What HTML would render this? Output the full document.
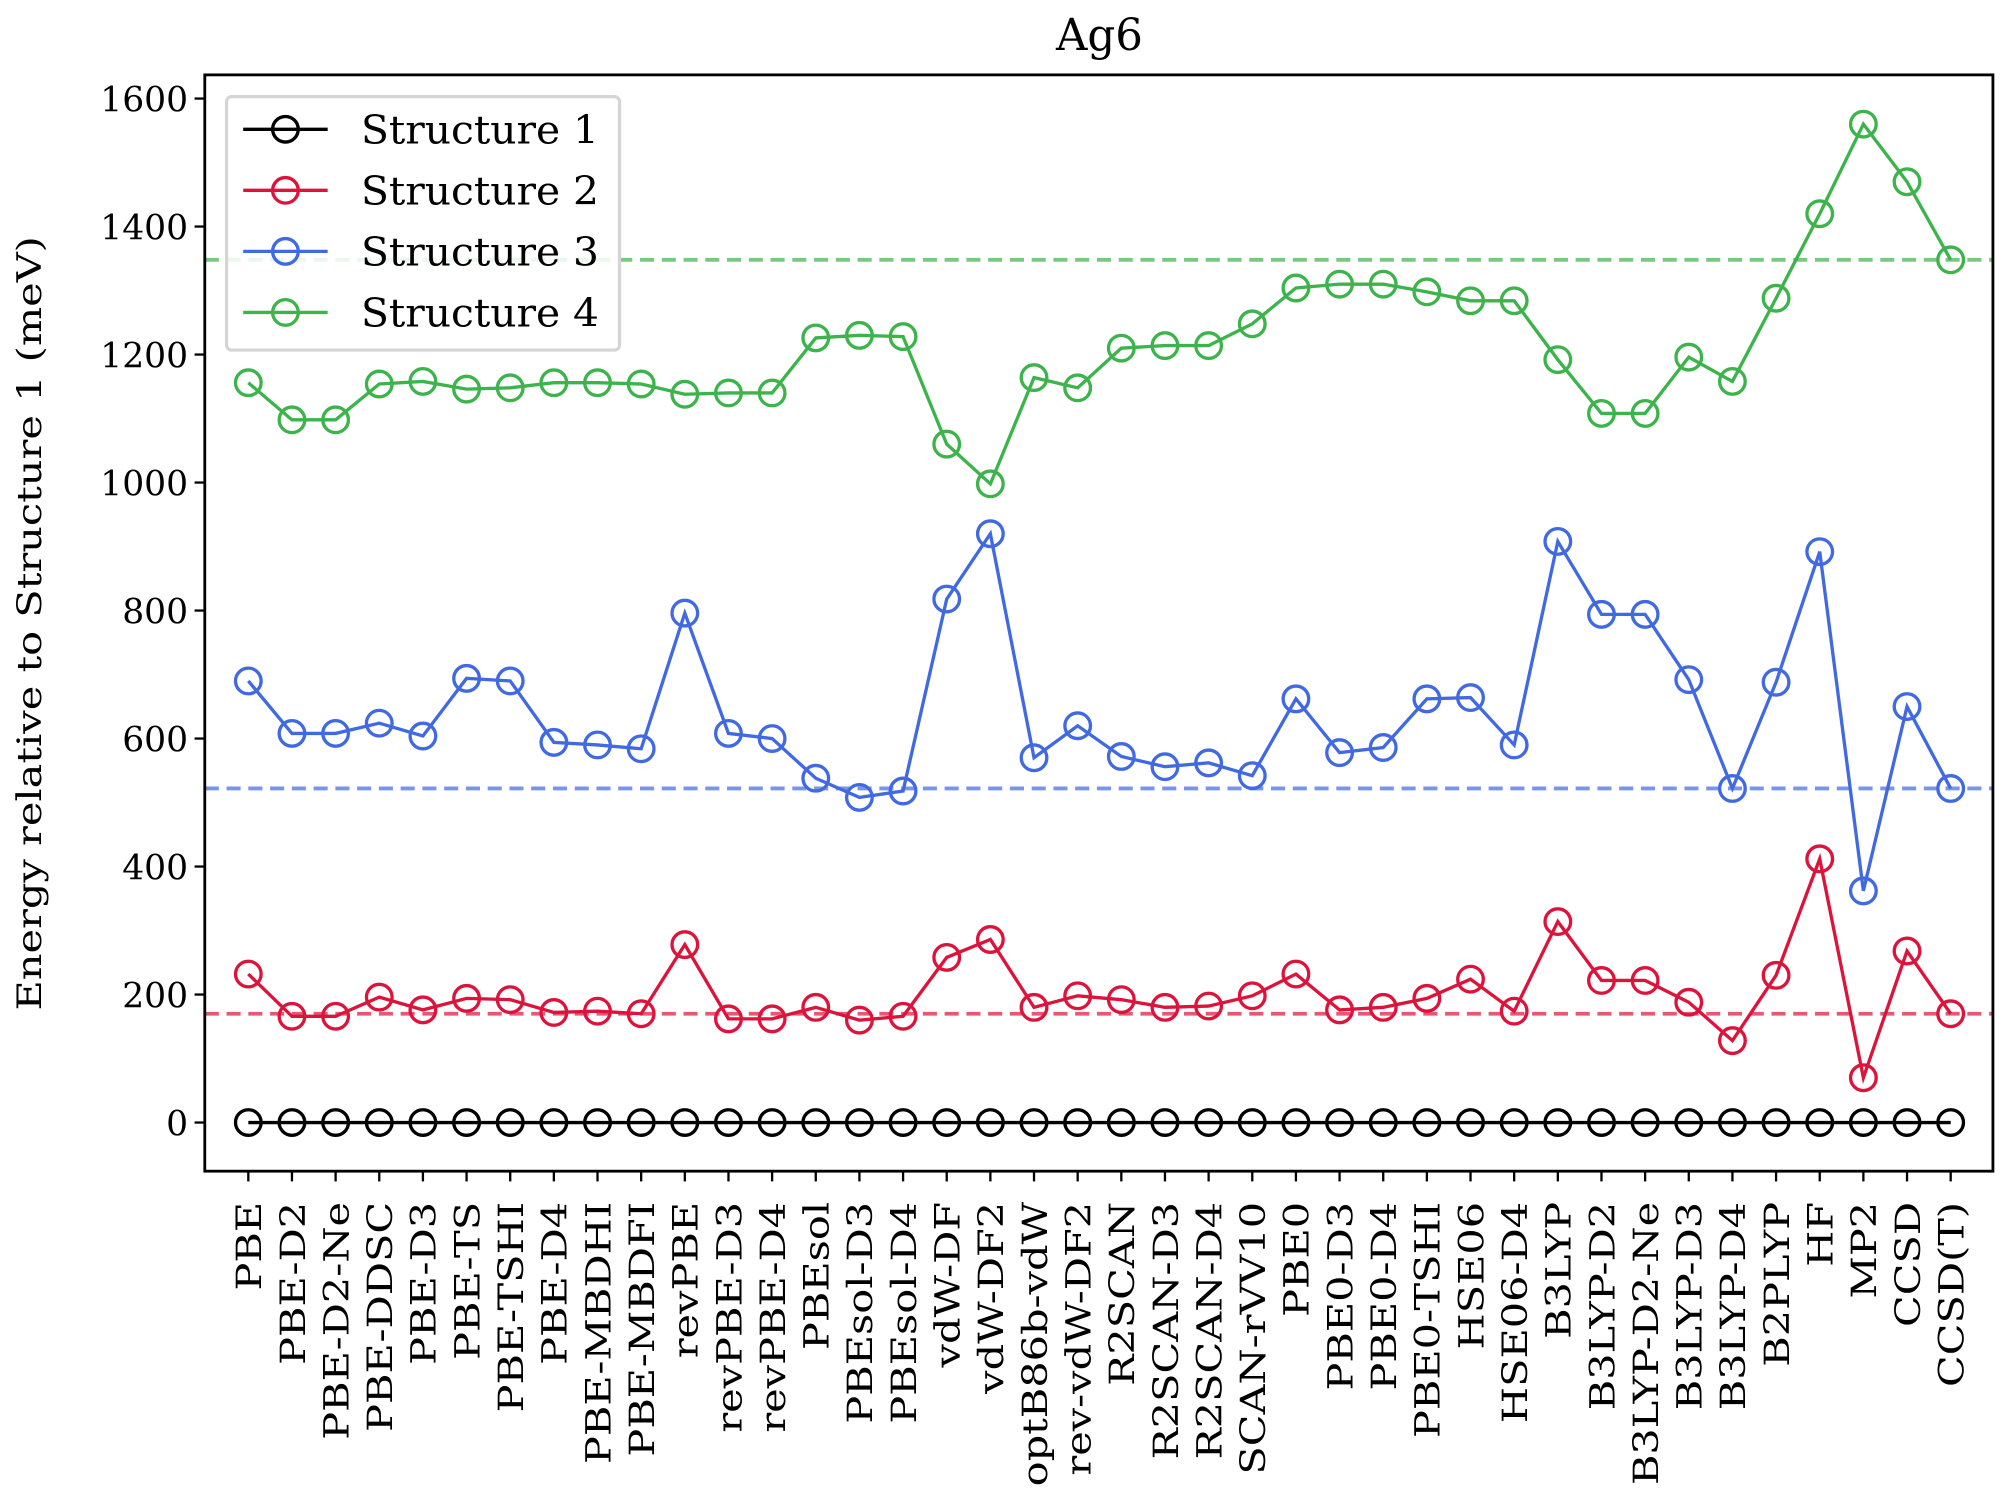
<!DOCTYPE html>
<html><head><meta charset="utf-8"><style>
html,body{margin:0;padding:0;background:#fff}
svg{display:block}
text{font-family:"DejaVu Serif","Liberation Serif",serif;fill:#000}
</style></head><body>
<svg id="chart" width="2007" height="1500" viewBox="0 0 1568 1171.9" xmlns="http://www.w3.org/2000/svg">
<rect width="1568" height="1172" fill="#fff"/>
<text x="859" y="39" font-size="34" text-anchor="middle" font-family="DejaVu Serif, serif">Ag6</text>
<text transform="translate(32,487) rotate(-90)" font-size="26" text-anchor="middle" font-family="DejaVu Serif, serif" textLength="605" lengthAdjust="spacingAndGlyphs">Energy relative to Structure 1 (meV)</text>
<g id="plot"></g>
<rect x="160" y="58.5" width="1397" height="856.5" fill="none" stroke="#000" stroke-width="2.2"/>
<g id="legend"></g>
</svg>
<script>
const categories=["PBE","PBE-D2","PBE-D2-Ne","PBE-DDSC","PBE-D3","PBE-TS","PBE-TSHI","PBE-D4","PBE-MBDHI","PBE-MBDFI","revPBE","revPBE-D3","revPBE-D4","PBEsol","PBEsol-D3","PBEsol-D4","vdW-DF","vdW-DF2","optB86b-vdW","rev-vdW-DF2","R2SCAN","R2SCAN-D3","R2SCAN-D4","SCAN-rVV10","PBE0","PBE0-D3","PBE0-D4","PBE0-TSHI","HSE06","HSE06-D4","B3LYP","B3LYP-D2","B3LYP-D2-Ne","B3LYP-D3","B3LYP-D4","B2PLYP","HF","MP2","CCSD","CCSD(T)"];
const s1=[0,0,0,0,0,0,0,0,0,0,0,0,0,0,0,0,0,0,0,0,0,0,0,0,0,0,0,0,0,0,0,0,0,0,0,0,0,0,0,0];
const s2=[232,166,166,196,176,194,192,172,174,170,278,162,162,180,160,166,258,286,180,198,192,180,182,198,232,176,180,194,224,174,314,222,222,188,128,230,412,70,268,170];
const s3=[690,608,608,624,604,694,690,594,590,584,796,608,600,538,508,518,818,920,570,620,572,556,562,542,662,578,586,662,664,590,908,794,794,692,522,688,892,362,650,522];
const s4=[1156,1098,1098,1154,1158,1146,1148,1156,1156,1154,1138,1140,1140,1226,1230,1228,1060,998,1164,1148,1210,1214,1214,1248,1304,1310,1310,1298,1284,1284,1192,1108,1108,1196,1158,1288,1420,1560,1470,1348];
const refLines=[1348,522,170];
const yTicks=[0,200,400,600,800,1000,1200,1400,1600];
const seriesNames=["Structure 1","Structure 2","Structure 3","Structure 4"];

const NS="http://www.w3.org/2000/svg";
const colors=["#000000","#dc143c","#4169e1","#3cb44b"];
const X0=160,X1=1557,Y0=915,Y1=58.5;
const xs=i=>194+i*(1524-194)/(categories.length-1);
const ys=v=>877-v*0.5;
const plot=document.getElementById('plot');
function mk(tag,attrs,parent){const e=document.createElementNS(NS,tag);for(const k in attrs)e.setAttribute(k,attrs[k]);(parent||plot).appendChild(e);return e;}

yTicks.forEach(t=>{
  const y=ys(t);
  const tk=mk('line',{x1:X0-8,x2:X0,y1:y,y2:y,stroke:'#000','stroke-width':1.8});
  
  
  const tx=mk('text',{x:X0-13,y:y+10,'font-size':27,'text-anchor':'end'});
  tx.textContent=t;
  
  
});
categories.forEach((c,i)=>{
  const x=xs(i);
  const tk=mk('line',{x1:x,x2:x,y1:Y0,y2:Y0+8,stroke:'#000','stroke-width':1.8});
  
  
  const tx=mk('text',{transform:`translate(${x+10},${Y0+24}) rotate(-90) scale(1.2,1)`,'font-size':27,'text-anchor':'end'});
  tx.textContent=c;
  
  
});
refLines.forEach((v,k)=>{
  const l=mk('line',{x1:X0,x2:X1,y1:ys(v),y2:ys(v),stroke:colors[3-k],'stroke-width':3,'stroke-dasharray':'11,6',opacity:0.7});
  
  
});
[s1,s2,s3,s4].forEach((s,k)=>{
  const g=mk('g',{});
  
  
  const pl=mk('polyline',{points:s.map((v,i)=>xs(i)+','+ys(v)).join(' '),fill:'none',stroke:colors[k],'stroke-width':2.6},g);
  
  
  s.forEach((v,i)=>{
    const c=mk('circle',{cx:xs(i),cy:ys(v),r:10,fill:'none',stroke:colors[k],'stroke-width':2.6},g);
    
    
  });
});
const lg=document.getElementById('legend');
mk('rect',{x:177,y:75.5,width:307,height:198,rx:4,fill:'#fff','fill-opacity':0.85,stroke:'#d5d5d5','stroke-width':2.5},lg);
seriesNames.forEach((n,k)=>{
  const y=101+k*47.7;
  const e=mk('g',{},lg);
  
  
  mk('line',{x1:190,x2:256,y1:y,y2:y,stroke:colors[k],'stroke-width':2.6},e);
  mk('circle',{cx:223,cy:y,r:10,fill:'none',stroke:colors[k],'stroke-width':2.6},e);
  const t=mk('text',{x:282,y:y+11,'font-size':31,textLength:186,lengthAdjust:'spacingAndGlyphs'},e);
  t.textContent=n;
});
</script>
</body></html>
